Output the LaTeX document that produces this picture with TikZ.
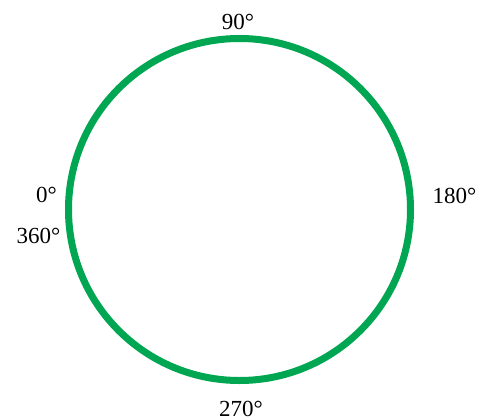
\documentclass[tikz,border=0pt]{standalone}
\usepackage{fontspec}
\setmainfont{Liberation Serif}
\definecolor{ringgreen}{HTML}{00A651}
\begin{document}
\begin{tikzpicture}[x=1pt,y=-1pt,
  lbl/.style={anchor=base,inner sep=0pt,font=\fontsize{23}{27}\selectfont}]
\useasboundingbox (0,0) rectangle (479,420);
\node[circle,draw=ringgreen,line width=7pt,minimum size=342pt,inner sep=0pt] (ring) at (239.5,209.5) {};
\node[lbl] (a90) at (238,30) {90°};
\node[lbl] (a0) at (46.5,202) {0°};
\node[lbl] (a360) at (38.5,243) {360°};
\node[lbl] (a180) at (454.5,203) {180°};
\node[lbl] (a270) at (241,416.5) {270°};
\end{tikzpicture}
\end{document}
